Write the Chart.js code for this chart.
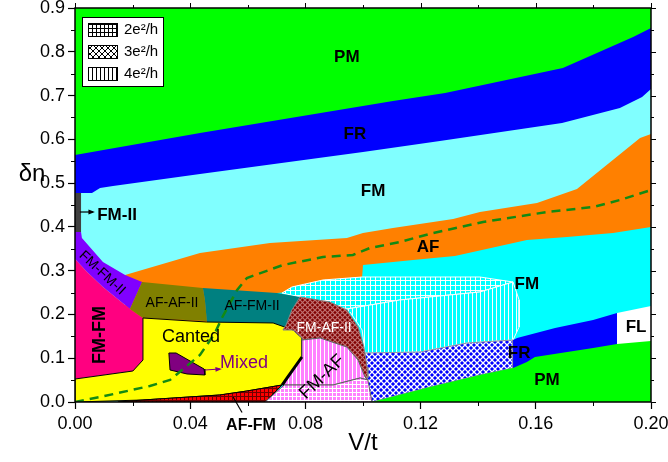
<!DOCTYPE html>
<html><head><meta charset="utf-8">
<script src="https://cdn.jsdelivr.net/npm/chart.js@4.4.1/dist/chart.umd.min.js"></script>
<style>html,body{margin:0;padding:0;background:#fff;overflow:hidden}</style>
</head><body>
<canvas id="c" width="668" height="462" style="display:block;width:668px;height:462px"></canvas>
<script>
// ---------- tick labels ----------
const xTicks = [0, 0.04, 0.08, 0.12, 0.16, 0.20];
const yTicks = [0, 0.1, 0.2, 0.3, 0.4, 0.5, 0.6, 0.7, 0.8, 0.9];
const xMinor = [0.02, 0.06, 0.10, 0.14, 0.18];
const yMinor = [0.05, 0.15, 0.25, 0.35, 0.45, 0.55, 0.65, 0.75, 0.85];

// ---------- phase boundaries (V/t, δn) ----------
const pmFrTop = [[0,0.5642],[0.0434,0.6145],[0.1104,0.6876],[0.1285,0.7059],[0.1694,0.763],[0.1938,0.8338],[0.2,0.8543]];
const frFmTop = [[0,0.4774],[0.0059,0.4774],[0.0087,0.4888],[0.0132,0.4934],[0.0434,0.5208],[0.1,0.5711],[0.1267,0.5962],[0.1691,0.6373],[0.1892,0.6716],[0.1969,0.6967],[0.2,0.715]];
const fm2Strip = [[0,0.4774],[0.0021,0.4774],[0.0021,0.3883],[0,0.3883]];
const afTop = [[0.0174,0.2901],[0.0434,0.3404],[0.0677,0.3632],[0.0944,0.3746],[0.1,0.386],[0.1104,0.3975],[0.1313,0.418],[0.1406,0.434],[0.1604,0.4546],[0.1743,0.4866],[0.1962,0.6031],[0.2,0.6122]];
const afBottom = [[0.0701,0.249],[0.0781,0.2536],[0.0861,0.2787],[0.0997,0.2855],[0.1,0.3129],[0.1174,0.3244],[0.1319,0.3335],[0.1413,0.3472],[0.1569,0.3701],[0.1708,0.3769],[0.1868,0.386],[0.2,0.3998]];
const fmfm2 = [[0,0.3883],[0.0021,0.3883],[0.0024,0.3746],[0.0097,0.3198],[0.0174,0.2901],[0.0233,0.2741],[0.0191,0.2124],[0.0097,0.2627],[0.0042,0.297],[0,0.3267]];
const fmfm = [[0,0.3267],[0.0042,0.297],[0.0097,0.2627],[0.0191,0.2124],[0.0236,0.1919],[0.0236,0.0959],[0.0201,0.0708],[0,0.0525]];
const afaf2 = [[0.0233,0.2741],[0.0444,0.2604],[0.0451,0.233],[0.0458,0.185],[0.0236,0.1919],[0.0191,0.2124]];
const affm2 = [[0.0444,0.2604],[0.0701,0.249],[0.0781,0.2399],[0.0753,0.2102],[0.0733,0.1759],[0.0722,0.1645],[0.0684,0.1759],[0.0458,0.1827],[0.0451,0.233]];
const canted = [[0.0236,0.1919],[0.0458,0.1827],[0.0688,0.1805],[0.0757,0.1645],[0.0788,0.1462],[0.0788,0.1028],[0.0736,0.0548],[0.0719,0.0388],[0.0597,0.0251],[0.0503,0.016],[0.0236,0.0046],[0,0],[0,0.0525],[0.0201,0.0708],[0.0236,0.0959],[0.0236,0.1919]];
const cantedEdge = [[0.0788,0.1028],[0.0736,0.0548],[0.0719,0.0388]];
const mixed = [[0.0326,0.1119],[0.0351,0.1119],[0.0448,0.0754],[0.0451,0.0617],[0.0389,0.064],[0.033,0.0731],[0.0326,0.1119]];
const fmaf2 = [[0.0781,0.2399],[0.0885,0.2284],[0.0944,0.2102],[0.0983,0.1713],[0.1003,0.1256],[0.1014,0.08],[0.1017,0.0548],[0.1007,0.0571],[0.0983,0.0959],[0.0944,0.1256],[0.0851,0.1462],[0.0788,0.1416],[0.0788,0.1462],[0.0757,0.1645],[0.0722,0.1645],[0.0733,0.1759],[0.0753,0.2102],[0.0781,0.2399]];
const fmafUpper = [[0.0788,0.1416],[0.0851,0.1462],[0.0944,0.1256],[0.0983,0.0959],[0.1007,0.0571],[0.1017,0.0503],[0.099,0.0548],[0.0896,0.0388],[0.0726,0.0388],[0.0736,0.0548],[0.0788,0.1028],[0.0788,0.1416]];
const fmafLower = [[0.0726,0.0388],[0.0896,0.0388],[0.099,0.0548],[0.1017,0.0503],[0.1031,0],[0.066,0],[0.0726,0.0388]];
const affmRed = [[0.0149,0],[0.0236,0.0046],[0.0503,0.016],[0.0597,0.0251],[0.0719,0.0388],[0.066,0],[0.0149,0]];
const grid2Band = [[0.0719,0.249],[0.0753,0.2627],[0.0861,0.2787],[0.0997,0.2855],[0.1406,0.2855],[0.1521,0.2741],[0.1406,0.2513],[0.1128,0.233],[0.0944,0.2124],[0.0781,0.2399],[0.0719,0.249]];
const vert4Band = [[0.0781,0.2399],[0.0944,0.2124],[0.1128,0.233],[0.1406,0.2513],[0.1521,0.2741],[0.1542,0.233],[0.1542,0.1713],[0.1521,0.1416],[0.1361,0.1348],[0.1198,0.1142],[0.1007,0.1119],[0.0997,0.1645],[0.0955,0.2056]];
const cross3Blue = [[0.1007,0.1119],[0.1198,0.1142],[0.1361,0.1348],[0.1521,0.1416],[0.1521,0.0777],[0.1406,0.0617],[0.1233,0.0343],[0.1031,0],[0.1014,0.0503],[0.1007,0.1119]];
const frLowerTop = [[0.1521,0.1416],[0.1535,0.1462],[0.1667,0.169],[0.1799,0.1873],[0.1882,0.2033]];
const flTop = [[0.1882,0.2033],[0.2,0.2193]];
const pmBottomTop = [[0.1031,0],[0.1233,0.0343],[0.1406,0.0617],[0.1521,0.0777],[0.1569,0.0914],[0.1597,0.1028],[0.1799,0.1234],[0.1882,0.1325],[0.2,0.1393]];
const tcDashed = [[0,0],[0.0087,0.0114],[0.026,0.0365],[0.033,0.0503],[0.0434,0.1074],[0.0486,0.1576],[0.051,0.1919],[0.0563,0.2558],[0.0597,0.2833],[0.0722,0.3129],[0.0861,0.3312],[0.0965,0.3358],[0.1024,0.3518],[0.1128,0.3655],[0.1243,0.386],[0.1417,0.4112],[0.1639,0.434],[0.1799,0.4454],[0.1892,0.4614],[0.2,0.4843]];

// ---------- labels ----------
const regionLabels = [
  {t:'PM', x:0.0944, y:0.788, bold:true, size:17},
  {t:'FR', x:0.0972, y:0.612, bold:true, size:17},
  {t:'FM', x:0.1035, y:0.482, bold:true, size:17},
  {t:'AF', x:0.1226, y:0.354, bold:true, size:17},
  {t:'FM', x:0.1569, y:0.2695, bold:true, size:17},
  {t:'FL', x:0.1948, y:0.1713, bold:true, size:17},
  {t:'FR', x:0.1542, y:0.1119, bold:true, size:17},
  {t:'PM', x:0.1639, y:0.0503, bold:true, size:17},
  {t:'FM-II', x:0.0146, y:0.4271, bold:true, size:17},
  {t:'FM-FM-II', x:0.0094, y:0.2947, size:14, rot:43},
  {t:'FM-FM', x:0.0087, y:0.153, bold:true, size:18, rot:-90},
  {t:'AF-AF-II', x:0.0337, y:0.2261, size:14},
  {t:'AF-FM-II', x:0.0615, y:0.2193, size:14},
  {t:'FM-AF-II', x:0.0865, y:0.169, size:14, color:'#FFFFFF'},
  {t:'Canted', x:0.0403, y:0.1485, size:18},
  {t:'Mixed', x:0.0587, y:0.0891, size:18, color:'#800080'},
  {t:'FM-AF', x:0.0858, y:0.0571, size:18, rot:-44},
  {t:'AF-FM', x:0.0611, y:-0.054, bold:true, size:16}
];
const arrows = [
  {from:[0.0017,0.434], to:[0.0062,0.434], color:'#000', head:true},
  {from:[0.0451,0.0731], to:[0.0503,0.0754], color:'#800080', head:true},
  {from:[0.0549,0.0114], to:[0.058,-0.024], color:'#000', head:false}
];
const legendItems = ['2e\u00B2/h', '3e\u00B2/h', '4e\u00B2/h'];

// ---------- patterns ----------
const canvas = document.getElementById('c');
const mainCtx = canvas.getContext('2d');
function pattern(bg, fg, kind, size, lw) {
  const c = document.createElement('canvas'); c.width = size; c.height = size;
  const g = c.getContext('2d');
  g.fillStyle = bg; g.fillRect(0, 0, size, size);
  g.strokeStyle = fg; g.lineWidth = lw || 1;
  g.beginPath();
  if (kind === 'grid') { g.moveTo(0.5, 0); g.lineTo(0.5, size); g.moveTo(0, 0.5); g.lineTo(size, 0.5); }
  else if (kind === 'vert') { g.moveTo(0.5, 0); g.lineTo(0.5, size); }
  else { g.moveTo(-1, -1); g.lineTo(size + 1, size + 1); g.moveTo(size + 1, -1); g.lineTo(-1, size + 1); }
  g.stroke();
  return mainCtx.createPattern(c, 'repeat');
}
const P = {
  gridCyan: pattern('#00FFFF', '#FFFFFF', 'grid', 5),
  vertCyan: pattern('#00FFFF', '#FFFFFF', 'vert', 4),
  crossBlue: pattern('#0000FF', '#FFFFFF', 'cross', 6, 1.3),
  crossBrown: pattern('#800000', '#C07070', 'cross', 5, 1.2),
  vertPink: pattern('#FF80FF', '#FFFFFF', 'vert', 4),
  gridPink: pattern('#FF80FF', '#FFFFFF', 'grid', 4),
  gridRed: pattern('#FF0000', '#700000', 'grid', 4),
  gridW: pattern('#FFFFFF', '#000000', 'grid', 4),
  crossW: pattern('#FFFFFF', '#000000', 'cross', 6),
  vertW: pattern('#FFFFFF', '#000000', 'vert', 4)
};

function toBottom(a) { return [...a, [a[a.length - 1][0], 0], [a[0][0], 0]]; }

const layers = [
  {pts: [[0,0],[0,0.9],[0.2,0.9],[0.2,0]], bg: '#00FF00'},
  {pts: toBottom(pmFrTop), bg: '#0000FF'},
  {pts: toBottom(frFmTop), bg: '#80FFFF'},
  {pts: fm2Strip, bg: '#404040'},
  {pts: toBottom(afTop), bg: '#FF8000'},
  {pts: toBottom(afBottom), bg: '#00FFFF'},
  {pts: grid2Band, bg: P.gridCyan, border: '#FFFFFF'},
  {pts: vert4Band, bg: P.vertCyan, border: '#FFFFFF'},
  {pts: cross3Blue, bg: P.crossBlue, border: '#9090A0'},
  {pts: toBottom(frLowerTop), bg: '#0000FF'},
  {pts: toBottom(flTop), bg: '#FFFFFF'},
  {pts: toBottom(pmBottomTop), bg: '#00FF00'},
  {pts: fmfm2, bg: '#8000FF'},
  {pts: fmfm, bg: '#FF0080'},
  {pts: afaf2, bg: '#808000'},
  {pts: affm2, bg: '#008080'},
  {pts: canted, bg: '#FFFF00', border: '#000000'},
  {pts: affmRed, bg: P.gridRed, border: '#000000'},
  {pts: fmaf2, bg: P.crossBrown, border: '#808080'},
  {pts: fmafUpper, bg: P.vertPink, border: '#606060'},
  {pts: fmafLower, bg: P.gridPink, border: '#606060'},
  {pts: mixed, bg: '#800080', border: '#000000'},
  {pts: cantedEdge, line: '#000000', width: 3},
  {pts: tcDashed, line: '#138A13', width: 2.5, dash: [9, 6]}
];
const N = layers.length;
const datasets = layers.map((L, i) => ({
  data: L.pts.map(([x, y]) => ({x, y})),
  showLine: true,
  fill: L.bg ? 'shape' : false,
  backgroundColor: L.bg || 'transparent',
  borderColor: L.line || L.border || 'rgba(0,0,0,0)',
  borderWidth: L.width || 1,
  borderDash: L.dash || [],
  pointRadius: 0, pointHoverRadius: 0, tension: 0,
  order: N - i
}));

const FONT = "'Liberation Sans', Arial, sans-serif";

const deco = {
  id: 'deco',
  afterDraw(chart) {
    const ctx = chart.ctx, ca = chart.chartArea;
    const xs = chart.scales.x, ys = chart.scales.y;
    const px = v => xs.getPixelForValue(v), py = v => ys.getPixelForValue(v);
    ctx.save();
    // frame
    ctx.strokeStyle = '#000'; ctx.lineWidth = 1.5;
    ctx.strokeRect(ca.left, ca.top, ca.right - ca.left, ca.bottom - ca.top);
    // extra ticks
    ctx.lineWidth = 1;
    ctx.beginPath();
    xMinor.forEach(v => { const X = Math.round(px(v)) + 0.5; ctx.moveTo(X, ca.bottom); ctx.lineTo(X, ca.bottom + 4); ctx.moveTo(X, ca.top); ctx.lineTo(X, ca.top - 3); });
    xTicks.forEach(v => { const X = Math.round(px(v)) + 0.5; ctx.moveTo(X, ca.top); ctx.lineTo(X, ca.top - 5); });
    yMinor.forEach(v => { const Y = Math.round(py(v)) + 0.5; ctx.moveTo(ca.left, Y); ctx.lineTo(ca.left - 4, Y); ctx.moveTo(ca.right, Y); ctx.lineTo(ca.right + 3, Y); });
    yTicks.forEach(v => { const Y = Math.round(py(v)) + 0.5; ctx.moveTo(ca.right, Y); ctx.lineTo(ca.right + 5, Y); });
    ctx.stroke();
    // arrows
    arrows.forEach(a => {
      const x1 = px(a.from[0]), y1 = py(a.from[1]), x2 = px(a.to[0]), y2 = py(a.to[1]);
      ctx.strokeStyle = a.color; ctx.fillStyle = a.color; ctx.lineWidth = 1.2;
      ctx.beginPath(); ctx.moveTo(x1, y1); ctx.lineTo(x2, y2); ctx.stroke();
      if (a.head) {
        const ang = Math.atan2(y2 - y1, x2 - x1);
        ctx.beginPath(); ctx.moveTo(x2 + 2, y2);
        ctx.lineTo(x2 - 5 * Math.cos(ang - 0.5), y2 - 5 * Math.sin(ang - 0.5));
        ctx.lineTo(x2 - 5 * Math.cos(ang + 0.5), y2 - 5 * Math.sin(ang + 0.5));
        ctx.closePath(); ctx.fill();
      }
    });
    // region labels
    ctx.textAlign = 'center'; ctx.textBaseline = 'middle';
    regionLabels.forEach(l => {
      ctx.save();
      ctx.translate(px(l.x), py(l.y));
      if (l.rot) ctx.rotate(l.rot * Math.PI / 180);
      ctx.font = (l.bold ? 'bold ' : '') + l.size + 'px ' + FONT;
      ctx.fillStyle = l.color || '#000';
      ctx.fillText(l.t, 0, 0);
      ctx.restore();
    });
    // legend box
    const lx = ca.left + 7, ly = ca.top + 9;
    ctx.fillStyle = '#fff'; ctx.fillRect(lx, ly, 81, 69);
    ctx.strokeStyle = '#000'; ctx.lineWidth = 1;
    ctx.strokeRect(lx + 0.5, ly + 0.5, 81, 69);
    const pats = [P.gridW, P.crossW, P.vertW];
    legendItems.forEach((t, i) => {
      const sy = ly + 6 + i * 22;
      ctx.fillStyle = pats[i]; ctx.fillRect(lx + 6, sy, 29, 13);
      ctx.strokeStyle = '#000'; ctx.strokeRect(lx + 6.5, sy + 0.5, 29, 13);
      ctx.fillStyle = '#000'; ctx.font = '15px ' + FONT; ctx.textAlign = 'left'; ctx.textBaseline = 'middle';
      ctx.fillText(t, lx + 42, sy + 7);
    });
    // axis titles
    ctx.fillStyle = '#000'; ctx.textAlign = 'center'; ctx.textBaseline = 'middle';
    ctx.font = '24px ' + FONT;
    ctx.fillText('V/t', (ca.left + ca.right) / 2, ca.bottom + 41);
    ctx.fillText('\u03B4n', ca.left - 43, py(0.52));
    ctx.restore();
  }
};

new Chart(canvas, {
  type: 'scatter',
  data: { datasets },
  options: {
    responsive: false, animation: false, events: [],
    layout: { padding: { top: 8, right: 17, left: 0, bottom: 0 } },
    plugins: { legend: { display: false }, tooltip: { enabled: false } },
    scales: {
      x: {
        type: 'linear', min: 0, max: 0.2,
        afterBuildTicks: s => { s.ticks = xTicks.map(v => ({value: v})); },
        afterFit: s => { s.height = 60; s.paddingLeft = 0; s.paddingRight = 0; },
        ticks: { callback: v => v.toFixed(2), font: { family: FONT, size: 18 }, color: '#000', padding: 4, autoSkip: false, maxRotation: 0 },
        grid: { drawOnChartArea: false, drawTicks: true, tickLength: 7, tickColor: '#000', tickWidth: 1.2 },
        border: { display: false }
      },
      y: {
        type: 'linear', min: 0, max: 0.9,
        afterBuildTicks: s => { s.ticks = yTicks.map(v => ({value: v})); },
        afterFit: s => { s.width = 75; s.paddingTop = 0; s.paddingBottom = 0; },
        ticks: { callback: v => v.toFixed(1), font: { family: FONT, size: 18 }, color: '#000', padding: 3, autoSkip: false },
        grid: { drawOnChartArea: false, drawTicks: true, tickLength: 7, tickColor: '#000', tickWidth: 1.2 },
        border: { display: false }
      }
    }
  },
  plugins: [deco]
});
</script>
</body></html>
